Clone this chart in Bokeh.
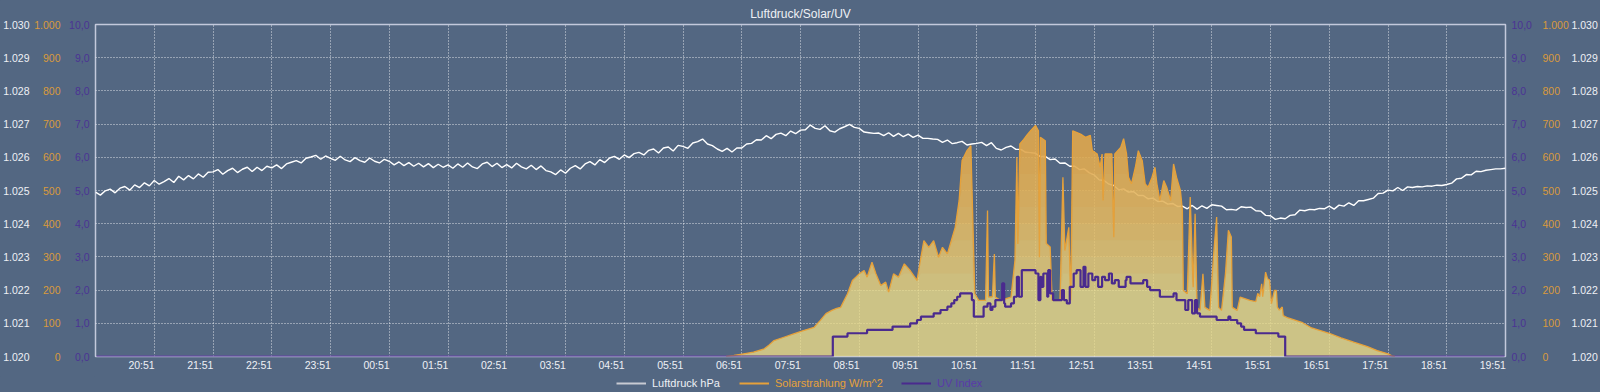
import numpy as np
from bokeh.plotting import figure
from bokeh.layouts import column
from bokeh.models import Range1d, LinearAxis, FixedTicker, Legend, LegendItem
from bokeh.embed import file_html
from bokeh.resources import INLINE

# ---------------- data ----------------
chart_title = "Luftdruck/Solar/UV"

hour_labels = ["20:51", "21:51", "22:51", "23:51", "00:51", "01:51", "02:51", "03:51",
               "04:51", "05:51", "06:51", "07:51", "08:51", "09:51", "10:51", "11:51",
               "12:51", "13:51", "14:51", "15:51", "16:51", "17:51", "18:51", "19:51"]

pressure_start = "19:51"
pressure_step_min = 5
pressure_hpa = [
    1024.95, 1024.86, 1024.99, 1025.04, 1024.93, 1025.07, 1025.12, 1025.01, 1025.17, 1025.09, 1025.23, 1025.14,
    1025.30, 1025.19, 1025.27, 1025.36, 1025.24, 1025.43, 1025.32, 1025.45, 1025.35, 1025.50, 1025.40, 1025.55,
    1025.56, 1025.63, 1025.49, 1025.60, 1025.67, 1025.54, 1025.64, 1025.70, 1025.57, 1025.70, 1025.60, 1025.73,
    1025.68, 1025.77, 1025.66, 1025.80, 1025.85, 1025.90, 1025.83, 1025.97, 1026.01, 1026.06, 1025.94, 1026.04,
    1025.97, 1025.91, 1026.03, 1025.92, 1025.87, 1025.99, 1025.90, 1025.85, 1025.98, 1025.88, 1025.83, 1025.94,
    1025.88, 1025.77, 1025.86, 1025.75, 1025.84, 1025.73, 1025.82, 1025.71, 1025.81, 1025.69, 1025.79, 1025.70,
    1025.77, 1025.67, 1025.80, 1025.70, 1025.83, 1025.71, 1025.66, 1025.80, 1025.85, 1025.72, 1025.82, 1025.69,
    1025.78, 1025.68, 1025.82, 1025.71, 1025.65, 1025.76, 1025.63, 1025.74, 1025.60, 1025.56, 1025.48, 1025.62,
    1025.52, 1025.67, 1025.75, 1025.65, 1025.80, 1025.87, 1025.77, 1025.93, 1025.84, 1025.98, 1026.03, 1025.94,
    1026.07, 1025.99, 1026.11, 1026.15, 1026.07, 1026.21, 1026.25, 1026.13, 1026.28, 1026.31, 1026.19, 1026.36,
    1026.33, 1026.27, 1026.43, 1026.47, 1026.55, 1026.40, 1026.35, 1026.25, 1026.18, 1026.27, 1026.16, 1026.28,
    1026.28, 1026.40, 1026.42, 1026.53, 1026.52, 1026.65, 1026.56, 1026.69, 1026.73, 1026.65, 1026.79, 1026.71,
    1026.82, 1026.83, 1026.97, 1026.87, 1026.84, 1026.95, 1026.80, 1026.76, 1026.86, 1026.92, 1026.99, 1026.90,
    1026.87, 1026.76, 1026.74, 1026.72, 1026.73, 1026.65, 1026.74, 1026.63, 1026.72, 1026.62, 1026.70, 1026.60,
    1026.67, 1026.57, 1026.57, 1026.55, 1026.54, 1026.45, 1026.52, 1026.41, 1026.44, 1026.48, 1026.37, 1026.40,
    1026.42, 1026.45, 1026.35, 1026.44, 1026.27, 1026.22, 1026.30, 1026.34, 1026.24, 1026.24, 1026.15, 1026.14,
    1026.12, 1026.02, 1026.03, 1025.93, 1025.95, 1025.82, 1025.83, 1025.73, 1025.73, 1025.63, 1025.65, 1025.53,
    1025.47, 1025.32, 1025.30, 1025.19, 1025.15, 1025.02, 1025.05, 1024.95, 1024.97, 1024.85, 1024.85, 1024.75,
    1024.77, 1024.67, 1024.68, 1024.59, 1024.61, 1024.52, 1024.53, 1024.45, 1024.55, 1024.44, 1024.54, 1024.46,
    1024.57, 1024.55, 1024.53, 1024.42, 1024.43, 1024.41, 1024.51, 1024.49, 1024.50, 1024.39, 1024.38, 1024.25,
    1024.24, 1024.13, 1024.17, 1024.15, 1024.25, 1024.27, 1024.41, 1024.39, 1024.43, 1024.42, 1024.46, 1024.45,
    1024.53, 1024.44, 1024.56, 1024.53, 1024.63, 1024.55, 1024.69, 1024.69, 1024.73, 1024.77, 1024.91, 1024.92,
    1025.01, 1024.99, 1025.09, 1025.00, 1025.11, 1025.09, 1025.12, 1025.11, 1025.14, 1025.13, 1025.16, 1025.15,
    1025.18, 1025.22, 1025.35, 1025.37, 1025.48, 1025.47, 1025.58, 1025.57, 1025.61, 1025.63, 1025.65, 1025.65,
    1025.67,
]

solar_times = [
    "06:35", "06:43", "06:53", "07:03", "07:14", "07:19", "07:24", "07:34", "07:44", "07:54",
    "08:05", "08:11", "08:17", "08:23", "08:28", "08:32", "08:39", "08:44", "08:48", "08:51",
    "08:56", "08:59", "09:04", "09:08", "09:13", "09:18", "09:21", "09:26", "09:31", "09:37",
    "09:43", "09:50", "09:54", "09:57", "10:02", "10:07", "10:12", "10:16", "10:21", "10:24",
    "10:29", "10:33", "10:36", "10:41", "10:45", "10:46", "10:49", "10:53", "11:00", "11:02",
    "11:03", "11:07", "11:09", "11:10", "11:15", "11:26", "11:30", "11:32", "11:33", "11:35",
    "11:39", "11:43", "11:46", "11:51", "11:54", "11:55", "11:56", "12:01", "12:02", "12:06",
    "12:08", "12:16", "12:19", "12:21", "12:25", "12:27", "12:29", "12:37", "12:42", "12:47",
    "12:49", "12:54", "12:57", "12:59", "13:00", "13:02", "13:09", "13:11", "13:12", "13:18",
    "13:21", "13:24", "13:26", "13:29", "13:33", "13:36", "13:40", "13:43", "13:46", "13:50",
    "13:53", "13:55", "13:58", "14:02", "14:05", "14:09", "14:12", "14:15", "14:19", "14:21",
    "14:22", "14:26", "14:29", "14:32", "14:34", "14:36", "14:39", "14:42", "14:44", "14:49",
    "14:53", "14:56", "14:58", "15:01", "15:05", "15:08", "15:11", "15:12", "15:17", "15:20",
    "15:30", "15:36", "15:38", "15:40", "15:42", "15:43", "15:46", "15:48", "15:50", "15:52",
    "15:55", "15:57", "15:58", "16:00", "16:03", "16:04", "16:09", "16:23", "16:33", "16:51",
    "17:03", "17:16", "17:30", "17:40", "17:51", "17:55", "17:58",
]
solar_wm2 = [
    0, 3, 8, 13, 23, 35, 48, 58, 68, 78,
    88, 108, 129, 139, 145, 148, 189, 229, 240, 249,
    259, 239, 284, 249, 214, 224, 194, 249, 239, 279,
    259, 229, 299, 349, 329, 349, 299, 329, 309, 339,
    389, 470, 590, 620, 635, 520, 189, 169, 169, 440,
    179, 180, 309, 179, 169, 179, 289, 600, 339, 640,
    654, 670, 680, 696, 680, 299, 660, 650, 340, 330,
    169, 169, 540, 319, 389, 169, 680, 670, 660, 666,
    620, 610, 570, 610, 470, 610, 610, 359, 610, 630,
    656, 610, 540, 520, 570, 620, 590, 520, 510, 540,
    570, 520, 470, 530, 510, 470, 580, 540, 500, 440,
    199, 189, 480, 209, 430, 148, 139, 249, 148, 139,
    309, 420, 148, 139, 249, 380, 360, 148, 139, 179,
    169, 165, 190, 180, 219, 180, 254, 234, 230, 159,
    199, 199, 149, 140, 149, 123, 116, 103, 86, 70,
    56, 43, 30, 18, 8, 2, 0,
]

uv_times = [
    "19:52", "08:24", "08:39", "08:59", "09:25", "09:43", "09:50", "09:54", "10:07", "10:14",
    "10:21", "10:25", "10:28", "10:31", "10:34", "10:46", "10:48", "10:58", "11:02", "11:05",
    "11:07", "11:10", "11:17", "11:19", "11:20", "11:26", "11:29", "11:32", "11:34", "11:37",
    "11:51", "11:54", "11:56", "11:57", "11:59", "12:03", "12:04", "12:06", "12:09", "12:18",
    "12:20", "12:23", "12:26", "12:30", "12:33", "12:37", "12:40", "12:42", "12:45", "12:49",
    "12:52", "12:55", "12:59", "13:02", "13:06", "13:09", "13:12", "13:16", "13:23", "13:24",
    "13:28", "13:38", "13:41", "13:45", "13:48", "13:58", "14:12", "14:15", "14:24", "14:27",
    "14:31", "14:34", "14:36", "14:39", "14:56", "15:08", "15:10", "15:17", "15:21", "15:24",
    "15:36", "15:59", "16:06", "19:50",
]
uv_index = [
    0.0, 0.6, 0.7, 0.8, 0.9, 1.0, 1.1, 1.2, 1.3, 1.4,
    1.5, 1.6, 1.7, 1.8, 1.9, 1.7, 1.2, 1.5, 1.6, 1.4,
    1.5, 1.7, 2.2, 1.6, 1.5, 1.6, 1.8, 2.4, 1.8, 2.6,
    2.5, 1.7, 2.4, 2.1, 2.5, 1.8, 2.6, 1.9, 1.7, 2.0,
    1.7, 1.6, 2.1, 2.5, 2.6, 2.1, 2.7, 2.1, 2.5, 2.3,
    2.4, 2.1, 2.4, 2.3, 2.5, 2.2, 2.3, 2.1, 2.3, 2.4,
    2.2, 2.2, 2.3, 2.1, 2.0, 1.8, 1.9, 1.7, 1.4, 1.7,
    1.3, 1.7, 1.3, 1.2, 1.1, 1.2, 1.1, 1.0, 0.9, 0.8,
    0.7, 0.6, 0.0, 0.0,
]

pressure_ticks = [1020, 1021, 1022, 1023, 1024, 1025, 1026, 1027, 1028, 1029, 1030]
pressure_tick_labels = ["1.020", "1.021", "1.022", "1.023", "1.024", "1.025",
                        "1.026", "1.027", "1.028", "1.029", "1.030"]
solar_ticks = [0, 100, 200, 300, 400, 500, 600, 700, 800, 900, 1000]
solar_tick_labels = ["0", "100", "200", "300", "400", "500", "600", "700", "800", "900", "1.000"]
uv_ticks = [0, 1, 2, 3, 4, 5, 6, 7, 8, 9, 10]
uv_tick_labels = ["0,0", "1,0", "2,0", "3,0", "4,0", "5,0", "6,0", "7,0", "8,0", "9,0", "10,0"]

series_names = ["Luftdruck hPa", "Solarstrahlung W/m^2", "UV Index"]

# ---------------- helpers ----------------
def to_min(s):
    h, m = map(int, s.split(":"))
    v = h * 60 + m
    return v + 1440 if v <= 19 * 60 + 51 else v

START = 19 * 60 + 51
END = START + 1440
LABEL_SHIFT = 13  # labels are drawn a little left of their grid lines

BG = "#536782"
WHITE = "#eef0f5"
ORANGE = "#e6a13a"
ORANGE_LBL = "#d99a3c"
PURPLE = "#4a2a8e"
PURPLE_LBL = "#4b3394"
FONT = "Liberation Sans"

p = figure(frame_width=1410, frame_height=332, output_backend="svg", toolbar_location=None,
           x_range=Range1d(START, END), y_range=Range1d(1020, 1030),
           x_axis_location=None, y_axis_location=None,
           min_border_left=87, min_border_right=87, min_border_top=24, min_border_bottom=20,
           styles={"background-color": BG})
p.extra_y_ranges = {"solar": Range1d(0, 1000), "uv": Range1d(0, 10)}
p.background_fill_color = BG
p.border_fill_color = BG
p.outline_line_color = "#c3c9dc"
p.outline_line_width = 1.5

p.title.text = chart_title
p.title.align = "center"
p.title.text_color = WHITE
p.title.text_font = FONT
p.title.text_font_size = "12px"
p.title.text_font_style = "normal"
p.title.standoff = 7

grid_min = [to_min(s) for s in hour_labels]
p.xgrid.ticker = FixedTicker(ticks=grid_min)
p.ygrid.ticker = FixedTicker(ticks=pressure_ticks)
for g in list(p.xgrid) + list(p.ygrid):
    g.grid_line_color = "#ffffff"
    g.grid_line_alpha = 0.8
    g.grid_line_dash = "1 2"
    g.grid_line_width = 1


def y_axis(range_name, ticks, labels, color, standoff):
    ax = LinearAxis(y_range_name=range_name, ticker=FixedTicker(ticks=ticks),
                    major_label_overrides=dict(zip(ticks, labels)))
    ax.axis_line_color = None
    ax.major_tick_line_color = None
    ax.minor_tick_line_color = None
    ax.major_tick_out = 0
    ax.major_tick_in = 0
    ax.minor_tick_out = 0
    ax.minor_tick_in = 0
    ax.major_label_text_color = color
    ax.major_label_text_font = FONT
    ax.major_label_text_font_size = "10.5px"
    ax.major_label_standoff = standoff
    return ax


p.add_layout(y_axis("uv", uv_ticks, uv_tick_labels, PURPLE_LBL, 6), "left")
p.add_layout(y_axis("solar", solar_ticks, solar_tick_labels, ORANGE_LBL, 6), "left")
p.add_layout(y_axis("default", pressure_ticks, pressure_tick_labels, WHITE, 2), "left")
p.add_layout(y_axis("uv", uv_ticks, uv_tick_labels, PURPLE_LBL, 6), "right")
p.add_layout(y_axis("solar", solar_ticks, solar_tick_labels, ORANGE_LBL, 8), "right")
p.add_layout(y_axis("default", pressure_ticks, pressure_tick_labels, WHITE, 0), "right")

label_pos = [m - LABEL_SHIFT for m in grid_min]
xax = LinearAxis(ticker=FixedTicker(ticks=label_pos),
                 major_label_overrides=dict(zip(label_pos, hour_labels)))
xax.axis_line_color = None
xax.major_tick_line_color = None
xax.minor_tick_line_color = None
xax.major_tick_out = 0
xax.major_tick_in = 0
xax.minor_tick_out = 0
xax.minor_tick_in = 0
xax.major_label_text_color = WHITE
xax.major_label_text_font = FONT
xax.major_label_text_font_size = "10.5px"
xax.major_label_standoff = 2
p.add_layout(xax, "below")

# ---------------- glyphs ----------------
px = [START + pressure_step_min * i for i in range(len(pressure_hpa))]
p.line(px, pressure_hpa, line_color="#ffffff", line_width=1.4)

sx = np.array([to_min(s) for s in solar_times])
sv = np.array(solar_wm2, dtype=float)
p.varea(x=sx, y1=np.zeros_like(sv), y2=sv, y_range_name="solar",
        fill_color="#ebdb87", fill_alpha=0.8)
for thr in [200, 250, 300, 350, 400, 450, 500, 550, 600]:
    p.varea(x=sx, y1=np.minimum(sv, thr), y2=sv, y_range_name="solar",
            fill_color="#d78f30", fill_alpha=0.085)
p.line(sx, sv, y_range_name="solar", line_color=ORANGE, line_width=1.3)

ux = [to_min(s) for s in uv_times]
p.step(ux, uv_index, y_range_name="uv", mode="after", line_color=PURPLE, line_width=2.2)

# ---------------- legend strip below the chart ----------------
lg_fig = figure(frame_width=1410, height=16, output_backend="svg", toolbar_location=None,
                x_range=Range1d(0, 1), y_range=Range1d(0, 1),
                x_axis_location=None, y_axis_location=None,
                min_border_left=95, min_border_right=95, min_border_top=0, min_border_bottom=0,
                styles={"background-color": BG})
lg_fig.background_fill_color = BG
lg_fig.border_fill_color = BG
# outline in the background colour hides the sub-pixel seam at the frame edge
lg_fig.outline_line_color = BG
lg_fig.outline_line_alpha = 1.0
lg_fig.outline_line_width = 3
lg_fig.grid.visible = False

legend_specs = [
    (series_names[0], "#c8cbd3", WHITE, 521),
    (series_names[1], ORANGE, ORANGE, 644),
    (series_names[2], PURPLE, "#5a3aa8", 806),
]
for name, line_col, text_col, xloc in legend_specs:
    # legend swatch only: its sample segment lies outside the strip's visible range
    swatch = lg_fig.line(x=[3, 4], y=[3, 4], line_color=line_col, line_width=2)
    lg = Legend(items=[LegendItem(label=name, renderers=[swatch])], location=(xloc, 3),
                orientation="horizontal", padding=0, margin=0, spacing=0,
                glyph_width=30, glyph_height=12, label_height=12, label_standoff=6,
                label_text_color=text_col, label_text_font=FONT, label_text_font_size="11px",
                background_fill_alpha=0, border_line_alpha=0)
    lg_fig.add_layout(lg, "center")

layout = column(p, lg_fig, spacing=0, styles={"background-color": BG})
open("out.html", "w").write(file_html(layout, INLINE))
